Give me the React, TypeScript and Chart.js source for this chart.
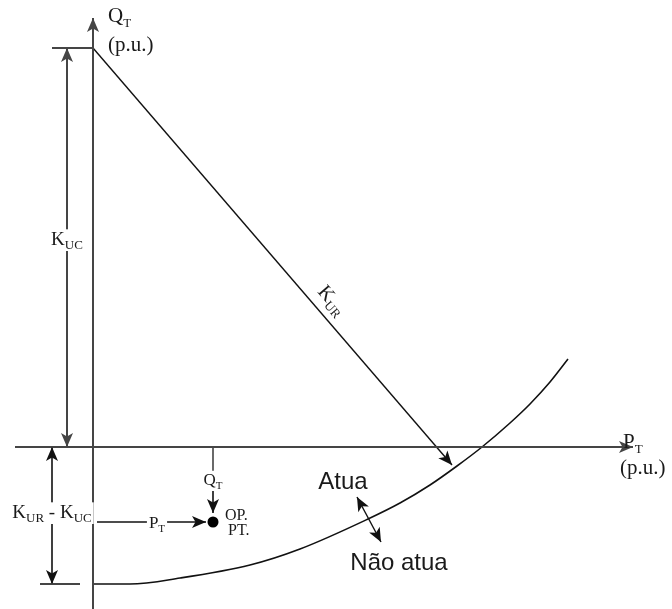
import { useEffect, useRef } from "react";
import { Chart, registerables } from "chart.js";

Chart.register(...registerables);

// Coordinates in p.u.; the origin is where the P_T and Q_T axes cross.
const qAxisP = [0, 0];
const qAxisQ = [-1.62, 4.29];
const pAxisP = [-0.78, 5.4];
const pAxisQ = [0, 0];

const kucLevel = 3.99; // K_UC
const kurLevel = -1.37; // K_UR - K_UC

const kucTickP = [-0.41, 0];
const kucArrowP = -0.26;
const diffArrowP = -0.41;
const diffTickP = [-0.53, -0.13];

const kurLineP = [0, 3.59];
const kurLineQ = [kucLevel, -0.18];

// Trip characteristic (boundary between "Atua" and "Não atua")
const curveP = [-0.01, 0.37, 0.87, 1.57, 2.07, 2.75, 3.07, 3.37, 3.64, 3.89, 4.17, 4.37, 4.57, 4.75];
const curveQ = [-1.37, -1.37, -1.31, -1.18, -1.02, -0.72, -0.56, -0.38, -0.19, 0.0, 0.24, 0.43, 0.65, 0.88];

// Operating point
const opP = [1.2];
const opQ = [-0.75];

const qtLeadQ = [0, -0.25];
const qtArrowQ = [-0.43, -0.66];
const ptLeadP = [0.04, 0.55];
const ptArrowP = [0.74, 1.13];

const atuaArrowP = [2.64, 2.88];
const atuaArrowQ = [-0.5, -0.95];

const pts = (xs: number[], ys: number[]) => xs.map((x, i) => ({ x, y: ys[i] }));

type Part = { t: string; sub?: boolean };
type Label = {
  p: number;
  q: number;
  parts: Part[];
  size: number;
  subSize?: number;
  family?: string;
  align?: "left" | "center";
  bg?: boolean;
  alongKur?: boolean;
};

const SERIF = '"Liberation Serif", "Times New Roman", serif';
const SANS = '"Liberation Sans", Arial, sans-serif';

const labels: Label[] = [
  { p: 0.15, q: 4.25, parts: [{ t: "Q" }, { t: "T", sub: true }], size: 21 },
  { p: 0.15, q: 3.96, parts: [{ t: "(p.u.)" }], size: 21 },
  { p: 5.3, q: -0.01, parts: [{ t: "P" }, { t: "T", sub: true }], size: 21 },
  { p: 5.27, q: -0.27, parts: [{ t: "(p.u.)" }], size: 21 },
  { p: kucArrowP, q: 2.02, parts: [{ t: "K" }, { t: "UC", sub: true }], size: 19, align: "center", bg: true },
  {
    p: diffArrowP,
    q: -0.71,
    parts: [{ t: "K" }, { t: "UR", sub: true }, { t: " - " }, { t: "K" }, { t: "UC", sub: true }],
    size: 19,
    align: "center",
    bg: true,
  },
  { p: 2.24, q: 1.55, parts: [{ t: "K" }, { t: "UR", sub: true }], size: 20, alongKur: true },
  { p: 1.2, q: -0.38, parts: [{ t: "Q" }, { t: "T", sub: true }], size: 17, subSize: 11, align: "center", bg: true },
  { p: 0.64, q: -0.81, parts: [{ t: "P" }, { t: "T", sub: true }], size: 17, subSize: 11, align: "center", bg: true },
  { p: 1.32, q: -0.73, parts: [{ t: "OP." }], size: 16 },
  { p: 1.35, q: -0.88, parts: [{ t: "PT." }], size: 16 },
  { p: 2.5, q: -0.42, parts: [{ t: "Atua" }], size: 24, family: SANS, align: "center" },
  { p: 3.06, q: -1.23, parts: [{ t: "Não atua" }], size: 24, family: SANS, align: "center" },
];

function drawHead(ctx: CanvasRenderingContext2D, from: any, to: any, color: string) {
  const a = Math.atan2(to.y - from.y, to.x - from.x);
  const L = 14;
  const W = 6;
  const N = 10.5;
  const c = Math.cos(a);
  const s = Math.sin(a);
  ctx.save();
  ctx.fillStyle = color;
  ctx.beginPath();
  ctx.moveTo(to.x, to.y);
  ctx.lineTo(to.x - L * c - W * s, to.y - L * s + W * c);
  ctx.lineTo(to.x - N * c, to.y - N * s);
  ctx.lineTo(to.x - L * c + W * s, to.y - L * s - W * c);
  ctx.closePath();
  ctx.fill();
  ctx.restore();
}

function drawLabel(ctx: CanvasRenderingContext2D, lb: Label, x: number, y: number, angle: number) {
  const fam = lb.family || SERIF;
  const sub = lb.subSize || 13;
  const font = (p: Part) => `${p.sub ? sub : lb.size}px ${fam}`;
  let total = 0;
  const widths = lb.parts.map((p) => {
    ctx.font = font(p);
    const w = ctx.measureText(p.t).width;
    total += w;
    return w;
  });
  ctx.save();
  ctx.translate(x, y);
  ctx.rotate(angle);
  let cx = lb.align === "center" ? -total / 2 : 0;
  if (lb.bg) {
    ctx.fillStyle = "#ffffff";
    ctx.fillRect(cx - 2, -lb.size * 0.72 - 2, total + 4, lb.size * 0.72 + 8);
  }
  ctx.fillStyle = "#1a1a1a";
  ctx.textBaseline = "alphabetic";
  ctx.textAlign = "left";
  lb.parts.forEach((p, i) => {
    ctx.font = font(p);
    ctx.fillText(p.t, cx, p.sub ? Math.round(lb.size * 0.22) : 0);
    cx += widths[i];
  });
  ctx.restore();
}

const diagramPlugin = {
  id: "diagram",
  afterDatasetsDraw(chart: any) {
    const ctx: CanvasRenderingContext2D = chart.ctx;
    chart.data.datasets.forEach((ds: any, i: number) => {
      const d = chart.getDatasetMeta(i).data;
      if (d.length < 2) return;
      if (ds.arrowEnd) drawHead(ctx, d[d.length - 2], d[d.length - 1], ds.borderColor);
      if (ds.arrowStart) drawHead(ctx, d[1], d[0], ds.borderColor);
    });
    const xs = chart.scales.x;
    const ys = chart.scales.y;
    const kurAngle = Math.atan2(
      ys.getPixelForValue(kurLineQ[1]) - ys.getPixelForValue(kurLineQ[0]),
      xs.getPixelForValue(kurLineP[1]) - xs.getPixelForValue(kurLineP[0])
    );
    labels.forEach((lb) => {
      drawLabel(ctx, lb, xs.getPixelForValue(lb.p), ys.getPixelForValue(lb.q), lb.alongKur ? kurAngle : 0);
    });
  },
};

const AXIS = "#454545";
const INK = "#111111";

function line(data: { x: number; y: number }[], color: string, width: number, extra: any = {}) {
  return {
    data,
    showLine: true,
    borderColor: color,
    borderWidth: width,
    pointRadius: 0,
    pointHoverRadius: 0,
    fill: false,
    clip: false,
    tension: 0,
    ...extra,
  };
}

export default function App() {
  const ref = useRef<HTMLCanvasElement>(null);

  useEffect(() => {
    document.body.style.margin = "0";
    const canvas = ref.current;
    if (!canvas) return;
    const chart = new Chart(canvas, {
      type: "scatter",
      data: {
        datasets: [
          line(pts(qAxisP, qAxisQ), AXIS, 2, { arrowEnd: true }),
          line(pts(pAxisP, pAxisQ), AXIS, 2, { arrowEnd: true }),
          line(pts(kucTickP, [kucLevel, kucLevel]), AXIS, 2),
          line(pts([kucArrowP, kucArrowP], [0, kucLevel]), AXIS, 2, { arrowEnd: true, arrowStart: true }),
          line(pts(diffTickP, [kurLevel, kurLevel]), AXIS, 2),
          line(pts([diffArrowP, diffArrowP], [0, kurLevel]), INK, 1.6, { arrowEnd: true, arrowStart: true }),
          line(pts(kurLineP, kurLineQ), INK, 1.4, { arrowEnd: true }),
          line(pts(curveP, curveQ), INK, 1.6, { cubicInterpolationMode: "monotone" }),
          line(pts([opP[0], opP[0]], qtLeadQ), AXIS, 1.6),
          line(pts([opP[0], opP[0]], qtArrowQ), INK, 1.6, { arrowEnd: true }),
          line(pts(ptLeadP, [opQ[0], opQ[0]]), INK, 1.6),
          line(pts(ptArrowP, [opQ[0], opQ[0]]), INK, 1.6, { arrowEnd: true }),
          line(pts(atuaArrowP, atuaArrowQ), INK, 1.4, { arrowEnd: true, arrowStart: true }),
          {
            data: pts(opP, opQ),
            pointRadius: 5.5,
            pointHoverRadius: 5.5,
            pointBackgroundColor: "#000",
            pointBorderWidth: 0,
            showLine: false,
            clip: false,
          },
        ],
      },
      options: {
        responsive: false,
        animation: false,
        events: [],
        layout: { padding: 0, autoPadding: false },
        plugins: { legend: { display: false }, tooltip: { enabled: false } },
        scales: {
          x: { type: "linear", min: -0.93, max: 5.79, display: false },
          y: { type: "linear", min: -1.62, max: 4.47, display: false },
        },
      },
      plugins: [diagramPlugin],
    } as any);
    return () => chart.destroy();
  }, []);

  return <canvas ref={ref} width={672} height={609} style={{ display: "block" }} />;
}
